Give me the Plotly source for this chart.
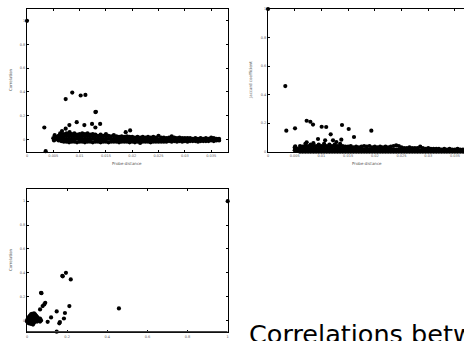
import plotly.graph_objects as go

# ---------------- Data ----------------
# Panel 1: Correlation vs probe distance
p1_out_x = [0.0, 0.00329, 0.00355, 0.00735, 0.0086, 0.0102, 0.0111, 0.013, 0.0131, 0.0139,
            0.013, 0.0109, 0.01236, 0.00945, 0.00805, 0.00735, 0.00665, 0.00526, 0.00513,
            0.0196, 0.01876, 0.0063, 0.0081]
p1_out_y = [1.0, 0.10, -0.10, 0.34, 0.395, 0.37, 0.375, 0.23, 0.232, 0.13,
            0.10, 0.12, 0.13, 0.145, 0.12, 0.09, 0.07, 0.035, -0.01,
            0.075, 0.06, 0.05, 0.06]
band1_x = [0.0050, 0.0055, 0.0060, 0.0065, 0.0070, 0.0075, 0.0080, 0.0085, 0.0090, 0.0095,
           0.0100, 0.0105, 0.0110, 0.0115, 0.0120, 0.0125, 0.0130, 0.0135, 0.0140, 0.0145,
           0.0150, 0.0155, 0.0160, 0.0165, 0.0170, 0.0175, 0.0180, 0.0185, 0.0190, 0.0195,
           0.0200, 0.0205, 0.0210, 0.0215, 0.0220, 0.0225, 0.0230, 0.0235, 0.0240, 0.0245,
           0.0250, 0.0255, 0.0260, 0.0265, 0.0270, 0.0275, 0.0280, 0.0285, 0.0290, 0.0295,
           0.0300, 0.0305, 0.0310, 0.0315, 0.0320, 0.0325, 0.0330, 0.0335, 0.0340, 0.0345,
           0.0350, 0.0355, 0.0360, 0.0365]
band1_y = [[0.01], [0.0, 0.02], [-0.01, 0.01, 0.03], [-0.015, 0.01, 0.035],
           [-0.02, 0.005, 0.03, 0.045], [-0.02, 0.005, 0.03, 0.05], [-0.025, 0.0, 0.025, 0.05],
           [-0.02, 0.005, 0.03, 0.045], [-0.02, 0.0, 0.025, 0.05], [-0.025, 0.005, 0.03, 0.04],
           [-0.02, 0.0, 0.02, 0.045], [-0.02, 0.005, 0.03, 0.05], [-0.025, 0.0, 0.025, 0.045],
           [-0.02, 0.005, 0.03, 0.05], [-0.02, 0.0, 0.025, 0.04], [-0.025, 0.005, 0.03, 0.045],
           [-0.02, 0.0, 0.025, 0.04], [-0.02, 0.005, 0.03], [-0.025, 0.0, 0.025, 0.04],
           [-0.02, 0.005, 0.03], [-0.02, 0.0, 0.025, 0.045], [-0.025, 0.005, 0.03],
           [-0.02, 0.0, 0.025], [-0.02, 0.005, 0.035], [-0.02, 0.0, 0.025], [-0.025, 0.0, 0.02],
           [-0.02, 0.005, 0.025], [-0.02, 0.0, 0.02], [-0.02, 0.0, 0.025], [-0.025, 0.0, 0.02],
           [-0.02, 0.0, 0.02], [-0.025, -0.005, 0.015], [-0.02, 0.0, 0.02], [-0.03, -0.005, 0.015],
           [-0.02, 0.0, 0.02], [-0.02, -0.005, 0.015], [-0.02, 0.0, 0.02], [-0.025, -0.005, 0.015],
           [-0.02, 0.0, 0.02], [-0.02, -0.005, 0.015], [-0.02, 0.0, 0.03], [-0.02, -0.005, 0.015],
           [-0.02, 0.0, 0.015], [-0.02, -0.005, 0.01], [-0.015, 0.0, 0.015], [-0.02, -0.005, 0.025],
           [-0.015, 0.0, 0.015], [-0.02, -0.005, 0.01], [-0.015, 0.0, 0.015], [-0.02, -0.005, 0.01],
           [-0.015, 0.0, 0.01], [-0.02, -0.005, 0.01], [-0.015, 0.0, 0.01], [-0.015, -0.005, 0.005],
           [-0.015, 0.0, 0.01], [-0.02, -0.005, 0.005], [-0.015, 0.0, 0.01], [-0.015, -0.005, 0.005],
           [-0.015, 0.0, 0.01], [-0.015, -0.005, 0.005], [-0.01, 0.0, 0.015], [-0.015, -0.005, 0.01],
           [-0.01, 0.0, 0.005], [-0.01, -0.005, 0.005]]

# Panel 2: Jaccard coefficient vs probe distance
p2_out_x = [0.0, 0.00324, 0.00343, 0.00506, 0.0051, 0.00724, 0.00793, 0.00843, 0.00724,
            0.00936, 0.01005, 0.0109, 0.0107, 0.01174, 0.01217, 0.0128, 0.01373, 0.01386,
            0.01511, 0.0161, 0.01935]
p2_out_y = [1.0, 0.46, 0.147, 0.164, 0.038, 0.217, 0.21, 0.19, 0.066,
            0.089, 0.175, 0.173, 0.08, 0.122, 0.08, 0.068, 0.084, 0.187,
            0.159, 0.103, 0.147]
band2_x = [0.0050, 0.0055, 0.0060, 0.0065, 0.0070, 0.0075, 0.0080, 0.0085, 0.0090, 0.0095,
           0.0100, 0.0105, 0.0110, 0.0115, 0.0120, 0.0125, 0.0130, 0.0135, 0.0140, 0.0145,
           0.0150, 0.0155, 0.0160, 0.0165, 0.0170, 0.0175, 0.0180, 0.0185, 0.0190, 0.0195,
           0.0200, 0.0205, 0.0210, 0.0215, 0.0220, 0.0225, 0.0230, 0.0235, 0.0240, 0.0245,
           0.0250, 0.0255, 0.0260, 0.0265, 0.0270, 0.0275, 0.0280, 0.0285, 0.0290, 0.0295,
           0.0300, 0.0305, 0.0310, 0.0315, 0.0320, 0.0325, 0.0330, 0.0335, 0.0340, 0.0345,
           0.0350, 0.0355, 0.0360, 0.0365]
band2_y = [[0.01, 0.03], [0.005, 0.02], [0.0, 0.02, 0.04], [0.0, 0.02, 0.035],
           [0.0, 0.02, 0.04, 0.055], [0.0, 0.02, 0.04], [0.0, 0.02, 0.04, 0.05],
           [0.0, 0.02, 0.04, 0.06], [0.0, 0.02, 0.04], [0.0, 0.02, 0.04, 0.05],
           [0.0, 0.02, 0.04], [0.0, 0.02, 0.04, 0.055], [0.0, 0.02, 0.04],
           [0.0, 0.02, 0.04, 0.05], [0.0, 0.02, 0.04], [0.0, 0.02, 0.04, 0.05],
           [0.0, 0.02, 0.04], [0.0, 0.02, 0.04, 0.055], [0.0, 0.02, 0.04],
           [0.0, 0.02, 0.035], [0.0, 0.015, 0.035], [0.0, 0.02, 0.04],
           [0.0, 0.015, 0.03], [0.0, 0.015, 0.035], [0.0, 0.015, 0.03], [0.0, 0.015, 0.035],
           [0.0, 0.015, 0.04], [0.0, 0.015, 0.035], [0.0, 0.015, 0.04], [0.0, 0.015, 0.03],
           [0.0, 0.015, 0.035], [0.0, 0.015, 0.03], [0.0, 0.015, 0.035], [0.0, 0.015, 0.03],
           [0.0, 0.015, 0.035], [0.0, 0.015, 0.03], [0.0, 0.015, 0.035], [0.0, 0.015, 0.04],
           [0.0, 0.015, 0.045], [0.0, 0.015, 0.04], [0.0, 0.015, 0.03], [0.0, 0.015, 0.025],
           [0.0, 0.01, 0.025], [0.0, 0.015, 0.03], [0.0, 0.01, 0.025], [0.0, 0.015, 0.025],
           [0.0, 0.01, 0.025], [0.0, 0.01, 0.035], [0.0, 0.01, 0.025], [0.0, 0.01, 0.02],
           [0.0, 0.01, 0.025], [0.0, 0.01, 0.02], [0.0, 0.01, 0.02], [0.0, 0.01, 0.02],
           [0.0, 0.01, 0.02], [0.0, 0.01, 0.015], [0.0, 0.01, 0.02], [0.0, 0.01, 0.015],
           [0.0, 0.01, 0.02], [0.0, 0.01, 0.015], [0.0, 0.01, 0.015], [0.0, 0.01, 0.02],
           [0.0, 0.01, 0.015], [0.0, 0.01, 0.015]]

# Panel 3: Correlation vs Jaccard coefficient
p3_x = [1.0, 0.458, 0.194, 0.176, 0.178, 0.218, 0.07, 0.072, 0.091, 0.086, 0.078, 0.211,
        0.065, 0.148, 0.189, 0.12, 0.184, 0.103, 0.164, 0.161, 0.148,
        0.0, 0.0, 0.005, 0.005, 0.005, 0.01, 0.01, 0.01, 0.01, 0.015, 0.015, 0.015, 0.015,
        0.02, 0.02, 0.02, 0.02, 0.02, 0.025, 0.025, 0.025, 0.025, 0.025,
        0.03, 0.03, 0.03, 0.03, 0.03, 0.035, 0.035, 0.035, 0.035, 0.035,
        0.04, 0.04, 0.04, 0.04, 0.045, 0.045, 0.045, 0.05, 0.05, 0.05,
        0.055, 0.055, 0.06, 0.065, 0.065, 0.07]
p3_y = [1.0, 0.10, 0.399, 0.374, 0.37, 0.344, 0.232, 0.228, 0.148, 0.134, 0.12, 0.12,
        0.092, 0.075, 0.062, 0.025, 0.016, -0.012, -0.014, -0.025, -0.095,
        -0.01, 0.0, -0.02, 0.0, 0.015, -0.025, -0.005, 0.01, 0.03, -0.02, 0.0, 0.02, 0.04,
        -0.03, -0.01, 0.01, 0.03, 0.05, -0.02, 0.0, 0.02, 0.04, 0.055,
        -0.035, -0.01, 0.01, 0.03, 0.05, -0.02, 0.0, 0.02, 0.04, 0.06,
        -0.01, 0.01, 0.03, 0.05, 0.0, 0.02, 0.04, -0.01, 0.01, 0.03,
        0.0, 0.02, 0.01, -0.01, 0.015, 0.0]

x_tick_vals = [0, 0.005, 0.01, 0.015, 0.02, 0.025, 0.03, 0.035]
x_tick_text = ["0", "0.005", "0.01", "0.015", "0.02", "0.025", "0.03", "0.035"]
y_tick_vals = [0, 0.2, 0.4, 0.6, 0.8, 1]
y_tick_text = ["0", "0.2", "0.4", "0.6", "0.8", "1"]
j_tick_vals = [0, 0.2, 0.4, 0.6, 0.8, 1]
j_tick_text = ["0", "0.2", "0.4", "0.6", "0.8", "1"]


def expand(xs, ys):
    ox, oy = [], []
    for x, col in zip(xs, ys):
        for y in col:
            ox.append(x)
            oy.append(y)
    return ox, oy


b1x, b1y = expand(band1_x, band1_y)
b2x, b2y = expand(band2_x, band2_y)

W, H = 464, 341
marker = dict(color="black", size=4.2, line=dict(width=0))

fig = go.Figure()
fig.add_trace(go.Scatter(x=b1x + p1_out_x, y=b1y + p1_out_y, mode="markers", marker=marker,
                         xaxis="x", yaxis="y", cliponaxis=False))
fig.add_trace(go.Scatter(x=b2x + p2_out_x, y=b2y + p2_out_y, mode="markers", marker=marker,
                         xaxis="x2", yaxis="y2", cliponaxis=False))
fig.add_trace(go.Scatter(x=p3_x, y=p3_y, mode="markers", marker=marker,
                         xaxis="x3", yaxis="y3", cliponaxis=False))

tickfont = dict(family="DejaVu Sans", size=3.5, color="#555")
common = dict(showgrid=False, zeroline=False, showline=True, linecolor="black", linewidth=1,
              ticks="inside", ticklen=2, tickcolor="black", tickwidth=0.8, mirror="ticks",
              tickfont=tickfont, fixedrange=True, automargin=False)


def px_x(p):
    return p / W


def px_y(p):
    return 1 - p / H


fig.update_layout(
    width=W, height=H, margin=dict(l=0, r=0, t=0, b=0, autoexpand=False),
    paper_bgcolor="white", plot_bgcolor="white", showlegend=False, hovermode=False,
    xaxis=dict(domain=[px_x(27), px_x(228)], range=[0, 0.0382], anchor="y",
               tickvals=x_tick_vals, ticktext=x_tick_text, **common),
    yaxis=dict(domain=[px_y(152), px_y(9)], range=[-0.107, 1.10], anchor="x",
               tickvals=y_tick_vals, ticktext=y_tick_text, **common),
    xaxis2=dict(domain=[px_x(268), 1.0], range=[0, 0.0367], anchor="y2",
                tickvals=x_tick_vals, ticktext=x_tick_text, **common),
    yaxis2=dict(domain=[px_y(151.7), px_y(9)], range=[0, 1.0], anchor="x2",
                tickvals=y_tick_vals, ticktext=y_tick_text,
                **{**common, "mirror": False}),
    xaxis3=dict(domain=[px_x(27), px_x(227.7)], range=[0, 1.0], anchor="y3",
                tickvals=j_tick_vals, ticktext=j_tick_text, **common),
    yaxis3=dict(domain=[px_y(332.3), px_y(189.3)], range=[-0.1, 1.1], anchor="x3",
                tickvals=y_tick_vals, ticktext=y_tick_text, **common),
)

titlefont = dict(family="DejaVu Sans", size=4, color="#555")
ann = [
    dict(text="Correlation", x=px_x(10), y=px_y(80), textangle=-90),
    dict(text="Probe distance", x=px_x(127), y=px_y(163)),
    dict(text="Jaccard coefficient", x=px_x(250), y=px_y(80), textangle=-90),
    dict(text="Probe distance", x=px_x(367), y=px_y(163)),
    dict(text="Correlation", x=px_x(10), y=px_y(260), textangle=-90),
]
for a in ann:
    fig.add_annotation(xref="paper", yref="paper", showarrow=False, font=titlefont,
                       xanchor="center", yanchor="middle", **a)

fig.add_annotation(text="Correlations between probe distance, correlation and Jaccard coefficient",
                   xref="paper", yref="paper", x=px_x(247), y=px_y(317), xanchor="left",
                   yanchor="top", showarrow=False,
                   font=dict(family="DejaVu Sans", size=25.5, color="black"))

fig.add_shape(type="line", xref="x3", yref="y3", x0=0, x1=1, y0=-0.1, y1=-0.1,
              line=dict(color="#444", width=2.5))

fig.write_html("out.html", config={"displayModeBar": False},
               post_script="document.body.style.margin='0';document.body.style.overflow='hidden';")
